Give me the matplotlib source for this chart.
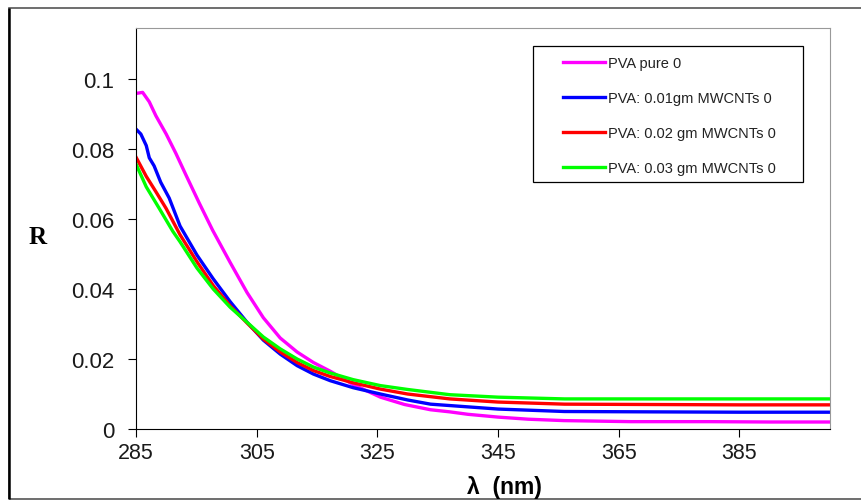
import matplotlib
matplotlib.use("Agg")
from matplotlib import pyplot as plt
from matplotlib.patches import Rectangle

# wavelength (nm) and reflectance R
wl_pure = [285, 286.1, 287.2, 288.3, 290, 291.6, 293.3, 295.5, 297.7, 300.6, 303.4, 306.1, 308.9, 311.7,
           314.4, 317.2, 321, 325.5, 329.5, 333.8, 337, 340, 345, 350, 355.9, 367, 380, 390, 400]
r_pure = [0.0959, 0.0962, 0.0935, 0.0895, 0.0843, 0.0788, 0.0725, 0.0645, 0.0568, 0.0476, 0.0390, 0.0318,
          0.0260, 0.0220, 0.0190, 0.0165, 0.0127, 0.0091, 0.0070, 0.0055, 0.0049, 0.0042, 0.0034, 0.0028,
          0.0024, 0.0021, 0.0021, 0.0020, 0.0020]

wl_01 = [285, 285.8, 286.7, 287.2, 288, 289.1, 290.5, 292.3, 295.1, 297.8, 300.6, 303.4, 306.1, 308.9,
         311.7, 314.4, 317.2, 321, 325.5, 330, 333.8, 337, 345, 356, 370, 385, 400]
r_01 = [0.0857, 0.0843, 0.0810, 0.0775, 0.0752, 0.0705, 0.0660, 0.0580, 0.0497, 0.0429, 0.0364, 0.0305,
        0.0254, 0.0214, 0.0181, 0.0157, 0.0138, 0.0118, 0.0100, 0.0083, 0.0071, 0.0067, 0.0057, 0.0050,
        0.0049, 0.0048, 0.0048]

wl_02 = [285, 286.7, 288.3, 290, 292.3, 295.1, 297.8, 300.6, 303.4, 306.1, 308.9, 311.7, 314.4, 317.2,
         321, 325.5, 330, 337, 345, 356, 370, 385, 400]
r_02 = [0.0777, 0.0722, 0.0678, 0.0630, 0.0555, 0.0478, 0.0410, 0.0352, 0.0303, 0.0257, 0.0220, 0.0190,
        0.0167, 0.0150, 0.0132, 0.0114, 0.0100, 0.0086, 0.0077, 0.0071, 0.0070, 0.0069, 0.0069]

wl_03 = [285, 286.7, 288.9, 291.1, 292.3, 295.1, 297.8, 300.6, 303.4, 306.1, 308.9, 311.7, 314.4, 317.2,
         321, 325.5, 330, 337, 345, 356, 370, 385, 400]
r_03 = [0.0757, 0.0692, 0.0629, 0.0565, 0.0535, 0.0460, 0.0400, 0.0348, 0.0305, 0.0263, 0.0229, 0.0200,
        0.0177, 0.0160, 0.0141, 0.0124, 0.0113, 0.0098, 0.0091, 0.0086, 0.0086, 0.0086, 0.0086]

labels = ["PVA pure 0", "PVA: 0.01gm MWCNTs 0", "PVA: 0.02 gm MWCNTs 0", "PVA: 0.03 gm MWCNTs 0"]
colors = ["#ff00ff", "#0000ff", "#ff0000", "#00ff00"]

x_ticks = [285, 305, 325, 345, 365, 385]
y_ticks = [0, 0.02, 0.04, 0.06, 0.08, 0.1]
y_tick_labels = ["0", "0.02", "0.04", "0.06", "0.08", "0.1"]

W, H = 861, 502


def main():
    plt.rcParams['font.family'] = ['Liberation Sans', 'DejaVu Sans']
    fig = plt.figure(figsize=(W / 100, H / 100), dpi=100)

    # outer chart frame (right edge falls off the canvas, as in the original)
    fig.patches.append(Rectangle((9 / W, 2 / H), 860 / W, 491 / H, transform=fig.transFigure,
                                 fill=False, edgecolor="#555555", linewidth=1.2))
    fig.patches.append(Rectangle((9 / W, 2 / H), 0, 491 / H, transform=fig.transFigure,
                                 fill=False, edgecolor="black", linewidth=1.8))

    ax = fig.add_axes([136 / W, 1 - 430 / H, 694 / W, 401 / H])

    series = [(wl_pure, r_pure), (wl_01, r_01), (wl_02, r_02), (wl_03, r_03)]
    for (wl, r), lab, col in zip(series, labels, colors):
        ax.plot(wl, r, color=col, linewidth=2.4, label=lab)

    ax.set_xlim(285, 400)
    ax.set_ylim(0, 0.1146)
    ax.set_xticks(x_ticks)
    ax.set_yticks(y_ticks)
    ax.set_yticklabels(y_tick_labels)
    ax.tick_params(axis='y', direction='out', length=6, labelsize=16, colors='black', pad=9.5)
    ax.tick_params(axis='x', direction='out', length=6, labelsize=15.5, colors='black', pad=3.5)
    for t in ax.get_xticklabels() + ax.get_yticklabels():
        t.set_color('#1a1a1a')
    for side in ['top', 'right']:
        ax.spines[side].set_color('#999999')
    for side in ['left', 'bottom']:
        ax.spines[side].set_color('black')

    fig.text(504 / W, 1 - 488 / H, "λ  (nm)", fontsize=16.5, fontweight='bold',
             ha='center', va='center')
    fig.text(38 / W, 1 - 238 / H, "R", fontsize=18, fontweight='bold',
             family='Liberation Serif', ha='center', va='center')

    # legend box drawn separately so the inner padding matches
    fig.patches.append(Rectangle((533 / W, 1 - 183 / H), 270 / W, 136 / H, transform=fig.transFigure,
                                 fill=True, facecolor='white', edgecolor='black', linewidth=0.9, zorder=3))
    leg = fig.legend(*ax.get_legend_handles_labels(), loc='upper left',
                     bbox_to_anchor=(563 / W, 1 - 57 / H), frameon=False, fontsize=10.5,
                     handlelength=2.9, handletextpad=0.2, labelspacing=1.45,
                     borderpad=0, borderaxespad=0)
    leg.set_zorder(4)
    for t in leg.get_texts():
        t.set_color('#222222')

    fig.savefig("out.png", dpi=100)


if __name__ == "__main__":
    main()
